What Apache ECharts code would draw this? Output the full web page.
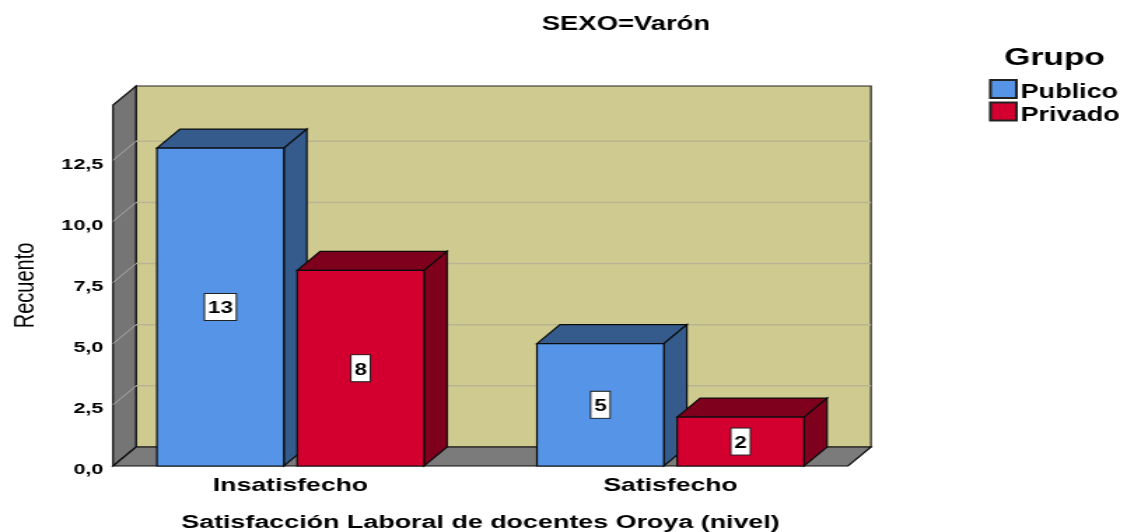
<!DOCTYPE html>
<html>
<head>
<meta charset="utf-8">
<title>SEXO=Varón</title>
<script src="https://cdn.jsdelivr.net/npm/echarts@6/dist/echarts.min.js"></script>
<style>
  html, body { margin: 0; padding: 0; background: #fff; overflow: hidden; }
  /* the reference is a picture stretched sideways, so the whole chart is too */
  #chart { height: 532px; transform-origin: 0 0; filter: blur(0.5px); }
</style>
</head>
<body>
<div id="chart"></div>
<script>
const categories = ['Insatisfecho', 'Satisfecho'];
const publico = [13, 5];
const privado = [8, 2];
const yTicks = [0, 2.5, 5, 7.5, 10, 12.5];
const yMax = 14.76;

const stretch = 1.4;
const px = v => v / stretch;

const dom = document.getElementById('chart');
dom.style.width = px(1123) + 'px';
dom.style.transform = 'scaleX(' + stretch + ')';

const depthX = px(23);
const depthY = 19;
const inset = px(12.5);
const edge = '#0c0c0c';

function poly(points, fill, stroke) {
  return {
    type: 'polygon',
    shape: { points: points },
    style: { fill: fill, stroke: stroke || edge, lineWidth: 1.2 }
  };
}

function renderWalls(params, api) {
  const cs = params.coordSys;
  const x0 = cs.x + inset;
  const x1 = cs.x + cs.width - inset;
  const y0 = api.coord([0, 0])[1];
  const y1 = api.coord([0, yMax])[1];
  const children = [
    poly([[x0 + depthX, y1 - depthY], [x1 + depthX, y1 - depthY], [x1 + depthX, y0 - depthY], [x0 + depthX, y0 - depthY]], '#cfca8f', '#222'),
    poly([[x0, y0], [x0, y1], [x0 + depthX, y1 - depthY], [x0 + depthX, y0 - depthY]], '#757575'),
    poly([[x0, y0], [x1, y0], [x1 + depthX, y0 - depthY], [x0 + depthX, y0 - depthY]], '#7b7b7b')
  ];
  yTicks.slice(1).forEach(t => {
    const y = api.coord([0, t])[1];
    children.push({
      type: 'line',
      shape: { x1: x0, y1: y, x2: x0 + depthX, y2: y - depthY },
      style: { stroke: '#a8a8a8', lineWidth: 1 }
    });
    children.push({
      type: 'line',
      shape: { x1: x0 + depthX, y1: y - depthY, x2: x1 + depthX, y2: y - depthY },
      style: { stroke: '#b9b594', lineWidth: 1.5 }
    });
  });
  return { type: 'group', children: children };
}

function barRenderer(offset, front, dark) {
  return function (params, api) {
    const band = api.size([1, 0])[0];
    const top = api.coord([api.value(0), api.value(1)]);
    const base = api.coord([api.value(0), 0]);
    const w = band * 0.334;
    const l = top[0] + band * offset - w / 2;
    const r = l + w;
    const t = top[1];
    const b = base[1];
    return {
      type: 'group',
      children: [
        poly([[l, t], [r, t], [r + depthX, t - depthY], [l + depthX, t - depthY]], dark),
        poly([[r, t], [r + depthX, t - depthY], [r + depthX, b - depthY], [r, b]], dark),
        poly([[l, t], [r, t], [r, b], [l, b]], front),
        {
          type: 'text',
          z2: 10,
          style: {
            x: (l + r) / 2,
            y: (t + b) / 2,
            text: '{d|' + api.value(1) + '}',
            align: 'center',
            verticalAlign: 'middle',
            backgroundColor: '#fff',
            borderColor: '#222',
            borderWidth: 1,
            padding: [2, 2, 3, 2],
            rich: {
              d: {
                fontFamily: 'Liberation Sans',
                fontWeight: 'bold',
                fontSize: 16,
                fill: '#000',
                padding: [5, 0, 0, 0]
              }
            }
          }
        }
      ]
    };
  };
}

const chart = echarts.init(dom);

chart.setOption({
  animation: false,
  textStyle: { fontFamily: 'Liberation Sans', color: '#000' },
  title: [
    {
      text: 'SEXO=Varón',
      left: px(619),
      top: 10,
      textAlign: 'center',
      textStyle: { fontSize: 19.6, fontWeight: 'bold', color: '#000' }
    },
    {
      text: 'Grupo',
      left: px(1047.5),
      top: 41,
      textAlign: 'center',
      textStyle: { fontSize: 24, fontWeight: 'bold', color: '#000' }
    }
  ],
  legend: {
    data: ['Publico', 'Privado'],
    orient: 'vertical',
    left: px(989),
    top: 79,
    padding: 0,
    icon: 'rect',
    itemWidth: px(26),
    itemHeight: 18,
    itemGap: -1,
    formatter: name => '{t|' + name + '}',
    textStyle: {
      rich: {
        t: { fontSize: 19.3, fontWeight: 'bold', color: '#000', padding: [8, 0, 0, -2] }
      }
    }
  },
  grid: { left: px(100.5), width: px(760), top: 105, height: 361, outerBoundsMode: 'none' },
  xAxis: {
    type: 'category',
    data: categories,
    name: 'Satisfacción Laboral de docentes Oroya (nivel)',
    nameLocation: 'middle',
    nameGap: 47,
    nameTextStyle: { fontSize: 19.2, fontWeight: 'bold', color: '#000' },
    axisLine: { show: false },
    axisTick: { show: false },
    axisLabel: { fontSize: 19, fontWeight: 'bold', color: '#000', margin: 10 }
  },
  yAxis: {
    type: 'value',
    min: 0,
    max: yMax,
    name: 'Recuento',
    nameLocation: 'middle',
    nameGap: px(61),
    nameTextStyle: { fontSize: 20, color: '#000' },
    axisLine: { show: false },
    axisTick: { show: false },
    splitLine: { show: false },
    axisLabel: {
      customValues: yTicks,
      margin: -2,
      fontSize: 15.4,
      fontWeight: 'bold',
      color: '#000',
      verticalAlign: 'top',
      lineHeight: 8,
      formatter: v => v.toFixed(1).replace('.', ',')
    }
  },
  series: [
    {
      name: 'walls',
      type: 'custom',
      silent: true,
      data: [[0, yMax]],
      renderItem: renderWalls
    },
    {
      name: 'Publico',
      type: 'custom',
      itemStyle: { color: '#5594e6', borderColor: '#222', borderWidth: 1 },
      data: publico.map((v, i) => [i, v]),
      renderItem: barRenderer(-0.1845, '#5594e6', '#345b8c')
    },
    {
      name: 'Privado',
      type: 'custom',
      itemStyle: { color: '#d3002f', borderColor: '#222', borderWidth: 1 },
      data: privado.map((v, i) => [i, v]),
      renderItem: barRenderer(0.1845, '#d3002f', '#7f001c')
    }
  ]
});
</script>
</body>
</html>
